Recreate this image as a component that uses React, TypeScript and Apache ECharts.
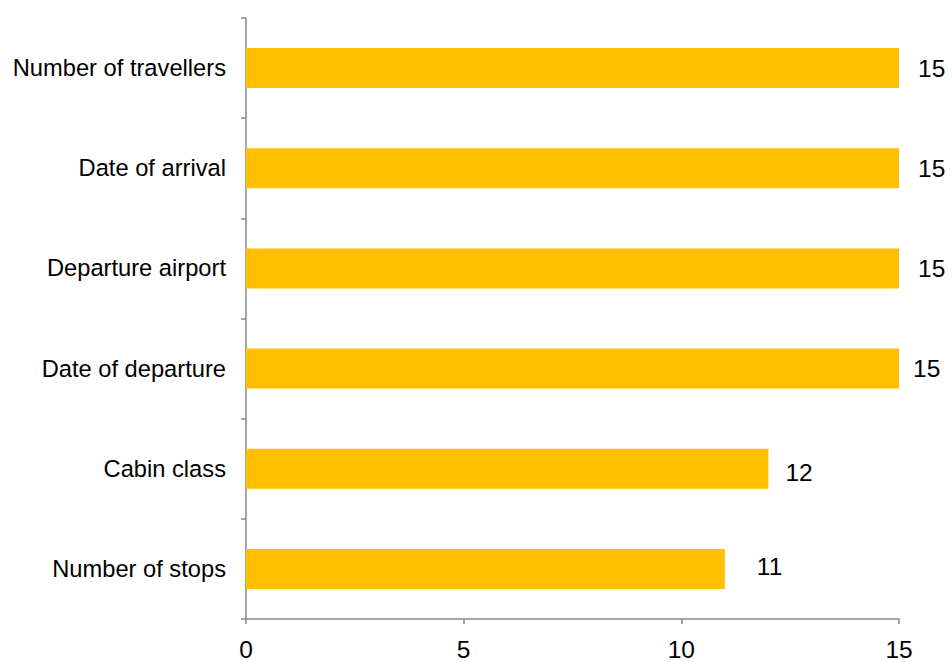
import React, { useEffect, useRef } from "react";
import * as echarts from "echarts";

const categories = [
  "Number of stops",
  "Cabin class",
  "Date of departure",
  "Departure airport",
  "Date of arrival",
  "Number of travellers",
];
const values = [11, 12, 15, 15, 15, 15];
const xTicks = { min: 0, max: 15, interval: 5 };

// label placement tweaks (style only)
const labelDist = [32, 17, 14, 19, 19, 19];
const labelOffsetY = [-2.5, 3.5, 0, 0, 0, 0];

const FONT = "Liberation Sans, Arial, sans-serif";

export default function App() {
  const ref = useRef<HTMLDivElement>(null);
  useEffect(() => {
    if (!ref.current) return;
    const chart = echarts.init(ref.current, undefined, { renderer: "svg" });
    chart.setOption({
      animation: false,
      grid: { left: 246, right: 53, top: 18, bottom: 42, containLabel: false },
      xAxis: {
        type: "value",
        min: xTicks.min,
        max: xTicks.max,
        interval: xTicks.interval,
        splitLine: { show: false },
        axisLine: { show: true, lineStyle: { color: "#898989", width: 1.5 } },
        axisTick: { show: true, length: 5, lineStyle: { color: "#898989", width: 1.5 } },
        axisLabel: {
          color: "#000",
          fontFamily: FONT,
          fontSize: 24.5,
          margin: 18,
        },
      },
      yAxis: {
        type: "category",
        data: categories,
        axisLine: { show: true, lineStyle: { color: "#898989", width: 1.5 } },
        axisTick: { show: true, length: 5, alignWithLabel: false, lineStyle: { color: "#898989", width: 1.5 } },
        axisLabel: {
          color: "#000",
          fontFamily: FONT,
          fontSize: 23.7,
          margin: 20,
        },
        splitLine: { show: false },
      },
      series: [
        {
          type: "bar",
          data: values.map((v, i) => ({
            value: v,
            label: { distance: labelDist[i], offset: [0, labelOffsetY[i]] },
          })),
          barWidth: "40%",
          itemStyle: { color: "#FFC000" },
          label: {
            show: true,
            position: "right",
            color: "#000",
            fontFamily: FONT,
            fontSize: 24.5,
          },
        },
      ],
    });
    return () => chart.dispose();
  }, []);
  return <div ref={ref} style={{ width: 952, height: 662, position: "absolute", left: 0, top: 0 }} />;
}
